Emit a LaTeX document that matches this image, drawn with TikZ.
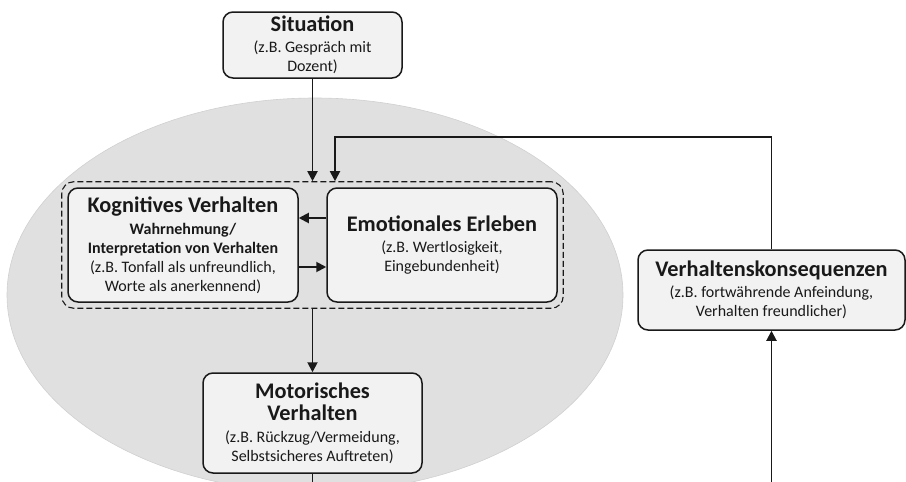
\documentclass[tikz,border=0pt]{standalone}
\usepackage{fontspec}
\setmainfont{Carlito}
\usetikzlibrary{positioning,arrows.meta,fit}
\definecolor{cbgray}{RGB}{224,224,224}
\definecolor{cbedge}{RGB}{208,208,208}
\definecolor{cbfill}{RGB}{242,242,242}
\definecolor{cbline}{RGB}{25,25,25}
\definecolor{cbtext}{RGB}{25,25,25}
\newcommand{\ttl}{\fontsize{22.3}{24}\selectfont\bfseries}

\begin{document}
\begin{tikzpicture}[x=1pt, y=-1pt,
  box/.style={draw=cbline, fill=cbfill, line width=1.5pt, rounded corners=10pt,
    align=center, text=cbtext, inner sep=0pt, font=\fontsize{16}{19}\selectfont},
  grpframe/.style={draw=cbline, dash pattern=on 6pt off 3pt, line width=1.1pt,
    rounded corners=12pt, inner sep=5.5pt},
  link/.style={draw=cbline, line width=1.9pt, -{Triangle[length=10pt,width=10pt]}},
  plain/.style={draw=cbline, line width=1.9pt}]
\useasboundingbox (0,0) rectangle (906,482);
\clip (0,0) rectangle (906,482);

% Person (grey area)
\fill[cbgray, draw=cbedge, line width=0.6pt] (315,295) ellipse [x radius=308, y radius=197];

% Boxes
\node[box, minimum width=179pt, minimum height=66pt] (sit) at (312.5,45)
  {{\ttl Situation}\\[2pt](z.B. Gespräch mit\\Dozent)};
\node[box, minimum width=230pt, minimum height=114pt] (kog) at (183,245)
  {{\ttl Kognitives Verhalten}\\[3pt]\textbf{Wahrnehmung/}\\\textbf{Interpretation von Verhalten}\\(z.B. Tonfall als unfreundlich,\\Worte als anerkennend)};
\node[box, minimum width=230pt, minimum height=114pt] (emo) at (442,245)
  {{\ttl Emotionales Erleben}\\[2pt](z.B. Wertlosigkeit,\\Eingebundenheit)};
\node[grpframe, fit=(kog)(emo)] (grp) {};
\node[box, minimum width=219pt, minimum height=100pt] (mot) at (312.5,423)
  {{\ttl Motorisches}\\[3pt]{\ttl Verhalten}\\[3pt](z.B. Rückzug/Vermeidung,\\Selbstsicheres Auftreten)};
\node[box, minimum width=267pt, minimum height=80pt] (kons) at (771.5,290)
  {{\ttl Verhaltenskonsequenzen}\\[2pt](z.B. fortwährende Anfeindung,\\Verhalten freundlicher)};

% Connectors
\coordinate (fb) at (335,137);
\coordinate (motout) at (312.5,482);
\coordinate (konsin) at (771.5,482);
\draw[link] (sit.south) -- (sit.south |- grp.north);
\draw[link] (kons.north) |- (fb) -- (fb |- grp.north);
\draw[link] ([yshift=27pt]emo.west) -- ([yshift=27pt]kog.east);
\draw[link] ([yshift=-22pt]kog.east) -- ([yshift=-22pt]emo.west);
\draw[link] (grp.south) -- (mot.north);
\draw[plain] (mot.south) -- (motout);
\draw[link] (konsin) -- (kons.south);
\end{tikzpicture}
\end{document}
